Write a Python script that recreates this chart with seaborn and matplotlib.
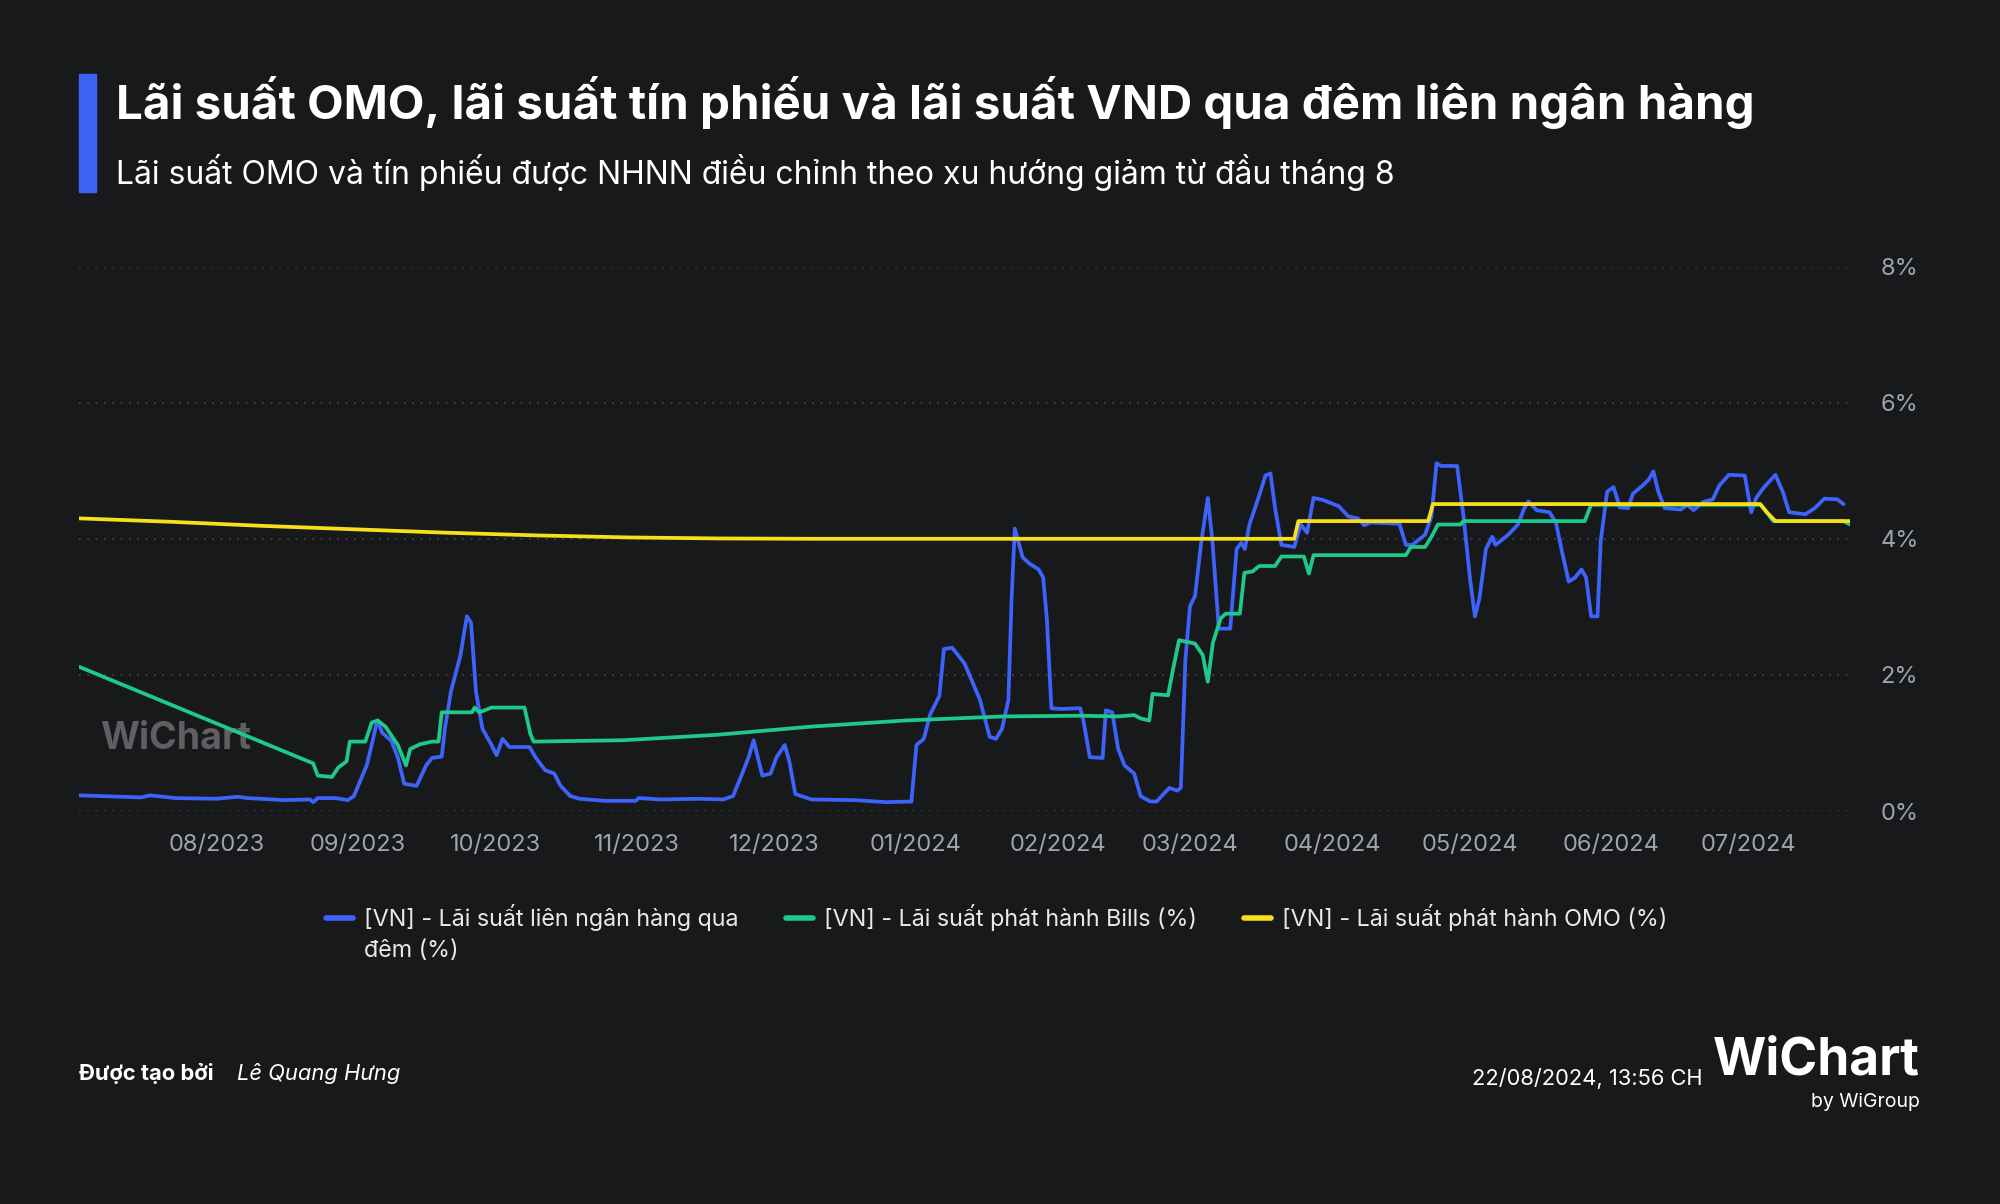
import numpy as np
import pandas as pd
import seaborn as sns
import matplotlib.pyplot as plt
import matplotlib.dates as mdates
from matplotlib.lines import Line2D
from matplotlib.patches import Rectangle

# day offsets are counted from 01/08/2023
base_date = pd.Timestamp("2023-08-01")

interbank_days = [-30, -16.4, -14.4, -8.9, 0, 4.8, 6.8, 15.1, 20.5, 21.2, 22.2, 26.0, 28.8,
                  30.1, 32.9, 34.2, 35.2, 36.3, 38.3, 39.7, 41.1, 43.8, 45.9, 47.2, 49.3,
                  50.0, 51.3, 53.4, 54.8, 55.7, 56.8, 58.2, 60.2, 61.3, 62.6, 64.1, 68.5,
                  69.8, 71.9, 73.9, 75.3, 77.4, 79.4, 84.9, 91.7, 92.4, 97.2, 105.4, 110.9,
                  113.0, 115.0, 116.4, 117.5, 118.4, 119.4, 121.2, 122.5, 124.3, 125.3,
                  126.6, 130.1, 139.6, 146.5, 152.0, 153.1, 154.7, 156.1, 158.1, 159.1,
                  160.9, 163.6, 167.0, 169.1, 170.5, 171.8, 173.2, 173.9, 174.6, 176.3,
                  177.7, 179.8, 180.8, 181.6, 182.6, 184.7, 188.9, 189.6, 191.0, 193.8,
                  194.5, 195.9, 197.2, 198.6, 200.7, 202.1, 204.2, 205.6, 208.4, 210.1,
                  210.9, 211.9, 212.9, 214.0, 215.4, 216.8, 217.8, 219.2, 221.7, 223.1,
                  224.1, 224.9, 225.9, 228.0, 229.4, 230.5, 231.5, 232.9, 235.7, 237.1,
                  238.5, 239.9, 242.0, 245.4, 247.5, 249.6, 251.0, 252.4, 258.7, 260.1,
                  261.5, 264.3, 265.7, 266.8, 267.8, 271.3, 272.7, 274.1, 275.2, 276.2,
                  277.6, 279.0, 279.7, 282.5, 284.6, 286.0, 286.9, 288.7, 291.5, 292.9,
                  294.3, 295.7, 297.1, 298.5, 299.5, 300.6, 302.0, 302.7, 304.1, 305.5,
                  306.9, 308.7, 309.7, 311.8, 313.2, 314.2, 315.3, 316.7, 320.2, 321.6,
                  323.0, 325.1, 327.2, 328.6, 330.7, 334.2, 335.6, 336.7, 338.3, 340.9,
                  342.5, 343.9, 347.4, 349.5, 351.6, 354.4, 355.8]
interbank_vals = [0.23, 0.20, 0.23, 0.19, 0.18, 0.21, 0.19, 0.16, 0.17, 0.13, 0.19, 0.19, 0.16,
                  0.22, 0.67, 1.03, 1.33, 1.15, 1.03, 0.79, 0.40, 0.37, 0.67, 0.78, 0.80,
                  1.21, 1.75, 2.29, 2.86, 2.77, 1.75, 1.21, 0.97, 0.82, 1.06, 0.94, 0.94,
                  0.79, 0.60, 0.55, 0.37, 0.22, 0.18, 0.15, 0.15, 0.19, 0.17, 0.18, 0.17,
                  0.22, 0.55, 0.79, 1.04, 0.79, 0.52, 0.55, 0.79, 0.97, 0.73,
                  0.25, 0.17, 0.16, 0.13, 0.14, 0.97, 1.06, 1.42, 1.69, 2.38,
                  2.40, 2.17, 1.63, 1.09, 1.06, 1.21, 1.63, 3.13, 4.15, 3.73,
                  3.64, 3.55, 3.43, 2.83, 1.51, 1.50, 1.51, 1.33, 0.79, 0.78,
                  1.48, 1.45, 0.91, 0.67, 0.55, 0.22, 0.14, 0.14, 0.34, 0.30,
                  0.34, 2.23, 3.01, 3.16, 3.97, 4.60, 3.97, 2.68, 2.68, 3.85,
                  3.94, 3.85, 4.21, 4.63, 4.93, 4.96, 4.45, 3.91, 3.88, 4.21,
                  4.09, 4.60, 4.57, 4.48, 4.33, 4.30, 4.20, 4.24, 4.22, 3.91,
                  3.91, 4.06, 4.33, 5.11, 5.07, 5.07, 4.33, 3.43, 2.86, 3.13,
                  3.85, 4.03, 3.91, 4.06, 4.21, 4.45, 4.55, 4.42, 4.39, 4.24,
                  3.79, 3.37, 3.43, 3.55, 3.43, 2.86, 2.86, 3.97, 4.69, 4.76,
                  4.46, 4.45, 4.66, 4.78, 4.87, 4.99, 4.69, 4.45, 4.43, 4.50,
                  4.42, 4.54, 4.58, 4.78, 4.94, 4.93, 4.39, 4.60, 4.75, 4.94,
                  4.69, 4.39, 4.36, 4.45, 4.59, 4.58, 4.51]

bills_days = [-30, 21.2, 22.2, 25.3, 26.7, 28.5, 29.2, 32.6, 34.0, 35.3, 37.0, 39.7, 41.5,
              42.4, 44.5, 47.2, 48.6, 49.3, 55.9, 56.5, 57.5, 60.2, 67.4, 68.7, 69.4,
              89.0, 109.5, 130.1, 150.6, 172.1, 188.9, 197.2, 200.7, 202.1, 204.0,
              204.7, 208.1, 209.1, 210.5, 214.0, 215.7, 216.8, 217.9, 219.6, 220.7,
              223.8, 224.8, 226.6, 228.0, 231.5, 232.9, 237.8, 238.9, 239.9, 260.1,
              261.2, 264.3, 265.7, 267.1, 272.0, 272.7, 299.2, 300.6, 337.6, 339.0,
              340.4, 355.8, 357.2]
bills_vals = [2.12, 0.70, 0.52, 0.50, 0.64, 0.73, 1.02, 1.02, 1.30, 1.33, 1.24, 0.97, 0.67,
              0.91, 0.98, 1.02, 1.02, 1.45, 1.45, 1.52, 1.45, 1.52, 1.52, 1.13, 1.02,
              1.04, 1.12, 1.24, 1.33, 1.39, 1.40, 1.39, 1.41, 1.36, 1.33,
              1.72, 1.70, 2.05, 2.51, 2.46, 2.29, 1.90, 2.47, 2.83, 2.90,
              2.90, 3.50, 3.52, 3.60, 3.60, 3.74, 3.74, 3.49, 3.76, 3.76,
              3.88, 3.88, 4.03, 4.21, 4.21, 4.26, 4.26, 4.50, 4.50, 4.39,
              4.26, 4.26, 4.21]

omo_days = [-30, -10, 10, 30, 50, 70, 90, 110, 130, 235.7, 236.6, 265.0, 266.0,
            337.6, 339.0, 340.9, 357.2]
omo_vals = [4.30, 4.25, 4.19, 4.14, 4.09, 4.05, 4.02, 4.005, 4.00, 4.00, 4.26, 4.26, 4.51,
            4.51, 4.39, 4.26, 4.26]

series_names = ["[VN] - Lãi suất liên ngân hàng qua đêm (%)",
                "[VN] - Lãi suất phát hành Bills (%)",
                "[VN] - Lãi suất phát hành OMO (%)"]
# the first legend label wraps onto a second line in the original
legend_first_line = "[VN] - Lãi suất liên ngân hàng qua"
legend_second_line = "đêm (%)"
series_colors = ["#3d63fb", "#1ec98a", "#f7df1a"]
y_ticks = [0, 2, 4, 6, 8]

frames = []
for name, days, vals in zip(series_names,
                            [interbank_days, bills_days, omo_days],
                            [interbank_vals, bills_vals, omo_vals]):
    frames.append(pd.DataFrame({
        "date": base_date + pd.to_timedelta(days, unit="D"),
        "rate": vals,
        "series": name,
    }))
df = pd.concat(frames, ignore_index=True)

bg = "#18191b"
sns.set_theme(style="dark", rc={"figure.facecolor": bg, "axes.facecolor": bg})
plt.rcParams["font.family"] = ["Inter", "DejaVu Sans"]

fig = plt.figure(figsize=(20, 12.04), dpi=100)
ax = fig.add_axes([0.0395, 0.3264, 0.8855, 0.4522])

sns.lineplot(data=df, x="date", y="rate", hue="series", hue_order=series_names,
             palette=series_colors, linewidth=2.7, legend=False, ax=ax, estimator=None,
             sort=False, solid_joinstyle="round", solid_capstyle="round")

ax.set_xlim(df["date"].min(), df["date"].max())
ax.set_ylim(0, 8)
ax.set_yticks(y_ticks)
ax.set_yticklabels([f"{t}%" for t in y_ticks])
ax.yaxis.tick_right()
ax.xaxis.set_major_locator(mdates.MonthLocator())
ax.xaxis.set_major_formatter(mdates.DateFormatter("%m/%Y"))
ax.tick_params(axis="both", length=0, labelsize=17, colors="#9ea3ad")
ax.tick_params(axis="y", pad=22)
ax.tick_params(axis="x", pad=16.5)
ax.set_xlabel("")
ax.set_ylabel("")
ax.grid(False)
ax.grid(axis="y", linestyle=(0, (1, 4)), color="#44474d", linewidth=1.2)
for s in ax.spines.values():
    s.set_visible(False)

# watermark
ax.text(0.012, 0.132, "WiChart", transform=ax.transAxes, fontsize=27, fontweight="bold",
        color="#5e5f62", va="center", ha="left", zorder=0)

# title block
fig.add_artist(Rectangle((79 / 2000, 1 - 191.7 / 1204), 16.5 / 2000, 117.7 / 1204,
                         transform=fig.transFigure, color="#3d63f5"))
fig.text(0.058, 0.9145, "Lãi suất OMO, lãi suất tín phiếu và lãi suất VND qua đêm liên ngân hàng",
         fontsize=34.2, fontweight="bold", color="white", va="center", ha="left")
fig.text(0.058, 0.857, "Lãi suất OMO và tín phiếu được NHNN điều chỉnh theo xu hướng giảm từ đầu tháng 8",
         fontsize=23, color="white", va="center", ha="left")

# legend
handles = [Line2D([0], [0], color=c, linewidth=4) for c in series_colors]
leg_labels = [legend_first_line] + series_names[1:]
leg = fig.legend(handles, leg_labels, ncol=3, loc="upper left", bbox_to_anchor=(0.163, 0.249),
                 frameon=False, fontsize=16.8, labelcolor="#e8e9eb", handlelength=1.15,
                 handletextpad=0.5, columnspacing=2.0, borderpad=0, borderaxespad=0)
fig.canvas.draw()
first_bb = leg.get_texts()[0].get_window_extent()
x0, y0 = fig.transFigure.inverted().transform((first_bb.x0, first_bb.y0 - 30.5))
fig.text(x0, y0, legend_second_line, fontsize=16.8, color="#e8e9eb", ha="left", va="bottom")

# footer
fig.text(0.0395, 0.108, "Được tạo bởi", fontsize=15.8, fontweight="bold", color="white",
         va="center", ha="left")
fig.text(0.1185, 0.108, "Lê Quang Hưng", fontsize=15.8, style="italic", color="white",
         va="center", ha="left")
fig.text(0.8515, 0.1045, "22/08/2024, 13:56 CH", fontsize=15.8, color="white",
         va="center", ha="right")
fig.text(0.96, 0.119, "WiChart", fontsize=37, fontweight="bold", color="white",
         va="center", ha="right")
fig.text(0.96, 0.0847, "by WiGroup", fontsize=14, color="white", va="center", ha="right")

fig.savefig("out.png", dpi=100, facecolor=bg)
